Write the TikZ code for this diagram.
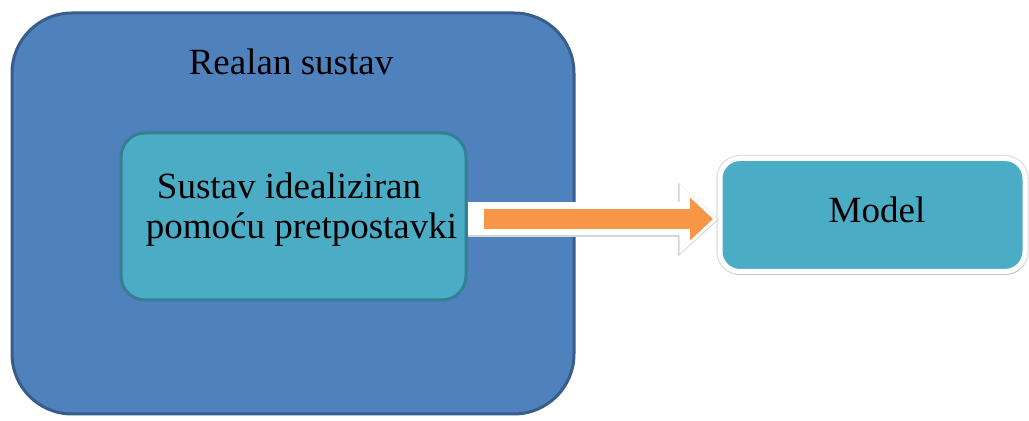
\documentclass[tikz,border=0pt]{standalone}
\usepackage{fontspec}
\setmainfont{Liberation Serif}
\usepackage{tikz}
\usetikzlibrary{arrows.meta,shadows}
\definecolor{realfill}{HTML}{4F81BD}
\definecolor{realline}{HTML}{385D8A}
\definecolor{idealfill}{HTML}{4BACC6}
\definecolor{idealline}{HTML}{367F93}
\definecolor{arroworange}{HTML}{F79646}

\begin{document}
\begin{tikzpicture}[x=0.5pt,y=-0.5pt]
\tikzset{every node/.style={font=\fontsize{18.5}{20}\selectfont},
realbox/.style={draw=realline,fill=realfill,line width=1.5pt,rounded corners=30pt,minimum width=281pt,minimum height=200.5pt},
idealbox/.style={draw=idealline,fill=idealfill,line width=1.5pt,rounded corners=12pt,minimum width=172.5pt,minimum height=83.5pt},
modelbox/.style={draw=white,fill=idealfill,line width=2.5pt,rounded corners=10pt,minimum width=152.5pt,minimum height=56.5pt,preaction={draw=black!14,line width=3.6pt},drop shadow={shadow xshift=0.6pt,shadow yshift=-1.6pt,opacity=0.35}}}
\useasboundingbox (0,0) rectangle (1029,421);
\node[realbox] (real) at (293,213.5) {};
\node[anchor=base] (realtxt) at (291,75) {Realan sustav};
\node[idealbox] (ideal) at (293.5,216.5) {};
\node[align=center] (idealtxt) at (301.5,210) {Sustav idealiziran\kern12.5pt\\pomoću pretpostavki};
\node[modelbox] (model) at (872.5,215) {};
\node[anchor=base] (modeltxt) at (877,223) {Model};
%\draw[arroworange,line width=10pt,->] (ideal) -- (model);
\draw[black!16,line width=17.6pt,-{Triangle[length=20.5pt,width=37pt,line width=0pt]}] ([yshift=-1.5pt]ideal.east) -- ([xshift=0.7pt,yshift=-2.25pt]model.west);
\draw[white,line width=16.5pt,-{Triangle[length=19pt,width=35pt,line width=0pt]}] ([yshift=-1.25pt]ideal.east) -- ([yshift=-2pt]model.west);
\draw[arroworange,line width=10pt,shorten <=8pt,shorten >=2.25pt,-{Triangle[length=11.5pt,width=21.5pt,line width=0pt]}] ([yshift=-1.25pt]ideal.east) -- ([yshift=-2pt]model.west);
\end{tikzpicture}
\end{document}
